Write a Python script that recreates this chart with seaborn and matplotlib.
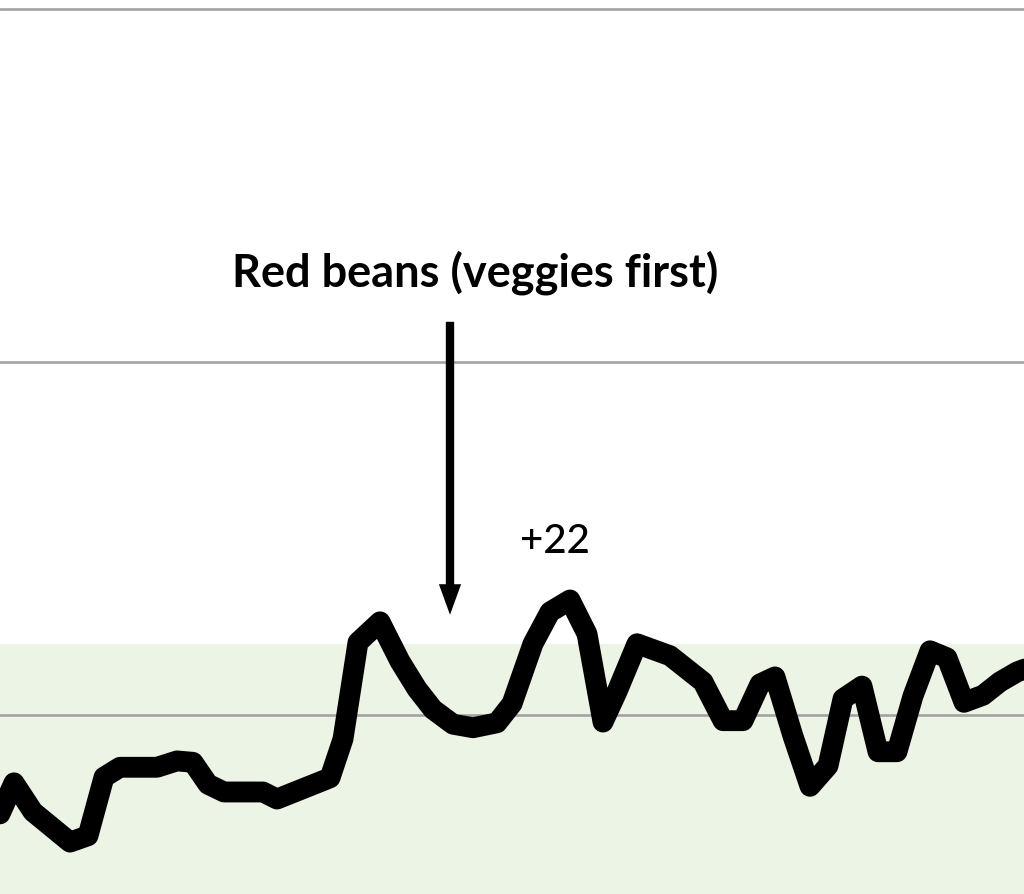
import matplotlib
matplotlib.use("Agg")
import matplotlib.pyplot as plt
import seaborn as sns
import pandas as pd

# Time (minutes) and glucose readings (mg/dL)
minutes = [0, 3.5, 8.25, 17.5, 22, 26, 30, 39.25, 44.25, 48.25, 52, 56, 65.75, 69.25,
           82.5, 85.75, 89.5, 95, 100, 104.25, 108.25, 113.25, 118.25, 124.25, 128,
           133.25, 137.5, 142.5, 146.75, 150.75, 154.25, 159.25, 167.5, 175.75, 180.75,
           185.75, 190, 193.75, 198.25, 202.5, 207, 210.75, 215.5, 219.5, 224.25, 228.25,
           232.5, 236.75, 241, 245.75, 250, 254.25, 257.5]
glucose = [86.0, 90.4, 86.3, 82.0, 82.9, 91.2, 92.6, 92.6, 93.5, 93.3, 90.2, 89.1, 89.1,
           88.1, 91.1, 96.6, 110.3, 113.2, 107.6, 103.7, 100.8, 98.7, 98.2, 98.9, 101.6,
           110.1, 114.6, 116.3, 111.5, 99.0, 103.3, 110.1, 108.4, 104.7, 99.2, 99.2, 104.4,
           105.4, 97.0, 89.9, 92.8, 102.3, 104.1, 94.8, 94.8, 102.7, 109.1, 108.1, 101.8,
           102.8, 104.7, 106.1, 106.8]

grid_levels = [100, 150, 200]
target_top = 110
meal_label = "Red beans (veggies first)"
meal_time = 112.5
rise_label = "+22"

df = pd.DataFrame({"minutes": minutes, "glucose": glucose})

sns.set_style("white")
plt.rcParams['font.family'] = ['Lato', 'DejaVu Sans']

fig = plt.figure(figsize=(10.24, 8.95), dpi=100)
ax = fig.add_axes([0, 0, 1, 1])

ylo, yhi = 74.65, 201.42
ax.axhspan(ylo, target_top, color="#ecf4e5", zorder=0, lw=0)
for g in grid_levels:
    ax.axhline(g, color="#a3a3a3", lw=1.9, zorder=1)

sns.lineplot(data=df, x="minutes", y="glucose", ax=ax, color="black", lw=15,
             solid_joinstyle="round", solid_capstyle="round", zorder=3)

ax.annotate("", xy=(meal_time, 114.2), xytext=(meal_time, 155.7),
            arrowprops=dict(arrowstyle="simple,head_length=22,head_width=16,tail_width=6",
                            mutation_scale=1, color="black", lw=0,
                            shrinkA=0, shrinkB=0), zorder=4)
ax.text(118.9, 160.8, meal_label, ha="center", va="baseline", fontsize=32.5,
        fontweight="bold", color="black")
ax.text(138.75, 123.1, rise_label, ha="center", va="baseline", fontsize=29,
        fontweight="medium", color="black")

ax.set_xlim(0, 256)
ax.set_ylim(ylo, yhi)
ax.set_axis_off()

fig.savefig("out.png", dpi=100)
